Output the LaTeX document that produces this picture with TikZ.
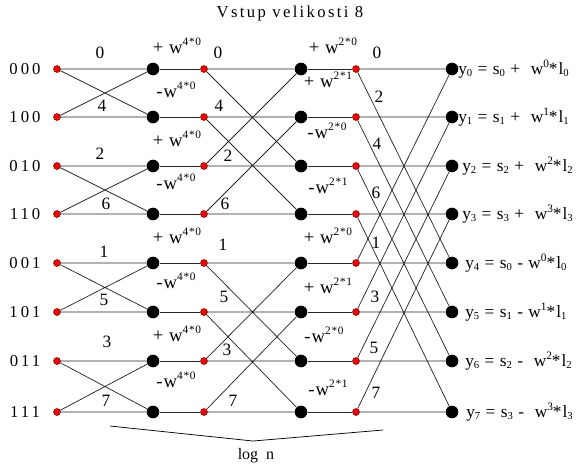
\documentclass[tikz,border=0pt]{standalone}
\usepackage{fontspec}
\setmainfont{Liberation Serif}
\newcommand{\wsup}[1]{\raisebox{0.42em}{\fontsize{8.5}{9}\selectfont #1}}
\newcommand{\osup}[1]{\raisebox{0.4em}{\fontsize{8.5}{9}\selectfont #1}}
\newcommand{\osub}[1]{\raisebox{-0.12em}{\fontsize{8}{9}\selectfont #1}}
\begin{document}
\begin{tikzpicture}[x=0.75pt,y=-0.75pt,
  red dot/.style={circle,fill=red,draw=black!60!red,line width=0.4pt,inner sep=0pt,minimum size=5.2pt},
  big dot/.style={circle,fill=black,inner sep=0pt,minimum size=9.5pt},
  wire/.style={line width=0.55pt,draw=black!85},
  rowlab/.style={font=\fontsize{12.5}{14}\selectfont\addfontfeature{LetterSpace=18},inner sep=0pt},
  num/.style={font=\fontsize{13}{15}\selectfont,inner sep=0pt},
  wlab/.style={font=\fontsize{14}{16}\selectfont\addfontfeature{LetterSpace=6},inner sep=0pt},
  outlab/.style={font=\fontsize{13}{15}\selectfont\addfontfeature{LetterSpace=6},anchor=west,inner sep=0pt},
]
\useasboundingbox (0,0) rectangle (580,472);
% title
\node[font=\fontsize{12.5}{15}\selectfont\addfontfeature{LetterSpace=14}] (title) at (290,13) {Vstup velikosti 8};
% nodes
\foreach \i/\y/\lab in {0/69/000,1/117/100,2/166/010,3/214/110,4/263/001,5/312/101,6/361/011,7/412/111}{
  \node[rowlab] (r\i) at (25,\y) {\lab};
  \node[red dot] (a\i) at (57,\y) {};
  \node[big dot] (b\i) at (153,\y) {};
  \node[red dot] (c\i) at (204,\y) {};
  \node[big dot] (d\i) at (301,\y) {};
  \node[red dot] (e\i) at (356,\y) {};
  \node[big dot] (f\i) at (452,\y) {};
}
% stage 1 butterflies
\foreach \i/\j in {0/1,2/3,4/5,6/7}{
  \draw[wire] (a\i)--(b\i) (a\i)--(b\j) (a\j)--(b\i) (a\j)--(b\j);
}
\foreach \i in {0,...,7}{
  \draw[wire] (b\i)--(c\i);
  \draw[wire] (d\i)--(e\i);
}
% stage 2 butterflies
\foreach \i/\j in {0/2,1/3,4/6,5/7}{
  \draw[wire] (c\i)--(d\i) (c\i)--(d\j) (c\j)--(d\i) (c\j)--(d\j);
}
% stage 3 butterflies
\foreach \i/\j in {0/4,1/5,2/6,3/7}{
  \draw[wire] (e\i)--(f\i) (e\i)--(f\j) (e\j)--(f\i) (e\j)--(f\j);
}
% stage 1 index labels
\node[num] (s1n0) at (100,53) {0};
\node[num] (s1n1) at (102,106) {4};
\node[num] (s1n2) at (100,154) {2};
\node[num] (s1n3) at (106,204) {6};
\node[num] (s1n4) at (104,252) {1};
\node[num] (s1n5) at (104,300) {5};
\node[num] (s1n6) at (107,342) {3};
\node[num] (s1n7) at (106,401) {7};
% stage 1 weights
\node[wlab] (w1p0) at (177,46) {+ w\wsup{4*0}};
\node[wlab] (w1m0) at (176,90) {-w\wsup{4*0}};
\node[wlab] (w1p1) at (177,139) {+ w\wsup{4*0}};
\node[wlab] (w1m1) at (176,182) {-w\wsup{4*0}};
\node[wlab] (w1p2) at (177,236) {+ w\wsup{4*0}};
\node[wlab] (w1m2) at (176,281) {-w\wsup{4*0}};
\node[wlab] (w1p3) at (177,334) {+ w\wsup{4*0}};
\node[wlab] (w1m3) at (176,380) {-w\wsup{4*0}};
% stage 2 index labels
\node[num] (s2n0) at (218,53) {0};
\node[num] (s2n1) at (219,106) {4};
\node[num] (s2n2) at (228,156) {2};
\node[num] (s2n3) at (225,204) {6};
\node[num] (s2n4) at (223,245) {1};
\node[num] (s2n5) at (224,297) {5};
\node[num] (s2n6) at (227,350) {3};
\node[num] (s2n7) at (233,401) {7};
% stage 2 weights
\node[wlab] (w2a) at (333,46) {+ w\wsup{2*0}};
\node[wlab] (w2b) at (328,80) {+ w\wsup{2*1}};
\node[wlab] (w2c) at (327,131) {-w\wsup{2*0}};
\node[wlab] (w2d) at (328,186) {-w\wsup{2*1}};
\node[wlab] (w2e) at (328,236) {+ w\wsup{2*0}};
\node[wlab] (w2f) at (328,286) {+ w\wsup{2*1}};
\node[wlab] (w2g) at (324,335) {-w\wsup{2*0}};
\node[wlab] (w2h) at (328,388) {-w\wsup{2*1}};
% stage 3 index labels
\node[num] (s3n0) at (377,53) {0};
\node[num] (s3n1) at (379,97) {2};
\node[num] (s3n2) at (377,144) {4};
\node[num] (s3n3) at (376,193) {6};
\node[num] (s3n4) at (376,243) {1};
\node[num] (s3n5) at (375,297) {3};
\node[num] (s3n6) at (374,348) {5};
\node[num] (s3n7) at (376,393) {7};
% outputs
\node[outlab] (o0) at (458,69) {y\osub{0} = s\osub{0} +\ \ w\osup{0}*l\osub{0}};
\node[outlab] (o1) at (458,117) {y\osub{1} = s\osub{1} +\ \ w\osup{1}*l\osub{1}};
\node[outlab] (o2) at (462,166) {y\osub{2} = s\osub{2} +\ \ w\osup{2}*l\osub{2}};
\node[outlab] (o3) at (462,214) {y\osub{3} = s\osub{3} +\ \ w\osup{3}*l\osub{3}};
\node[outlab] (o4) at (465,263) {y\osub{4} = s\osub{0}\ -\ w\osup{0}*l\osub{0}};
\node[outlab] (o5) at (465,312) {y\osub{5} = s\osub{1}\ -\ w\osup{1}*l\osub{1}};
\node[outlab] (o6) at (465,361) {y\osub{6} = s\osub{2}\ -\ \ w\osup{2}*l\osub{2}};
\node[outlab] (o7) at (466,412) {y\osub{7} = s\osub{3}\ -\ \ w\osup{3}*l\osub{3}};
% brace
\coordinate (br1) at (110,426);
\coordinate (br2) at (253,441);
\coordinate (br3) at (383,430);
\draw[line width=0.55pt] (br1)--(br2)--(br3);
\node[font=\fontsize{12}{14}\selectfont] (logn) at (256,456) {log\ \ n};
\end{tikzpicture}
\end{document}
